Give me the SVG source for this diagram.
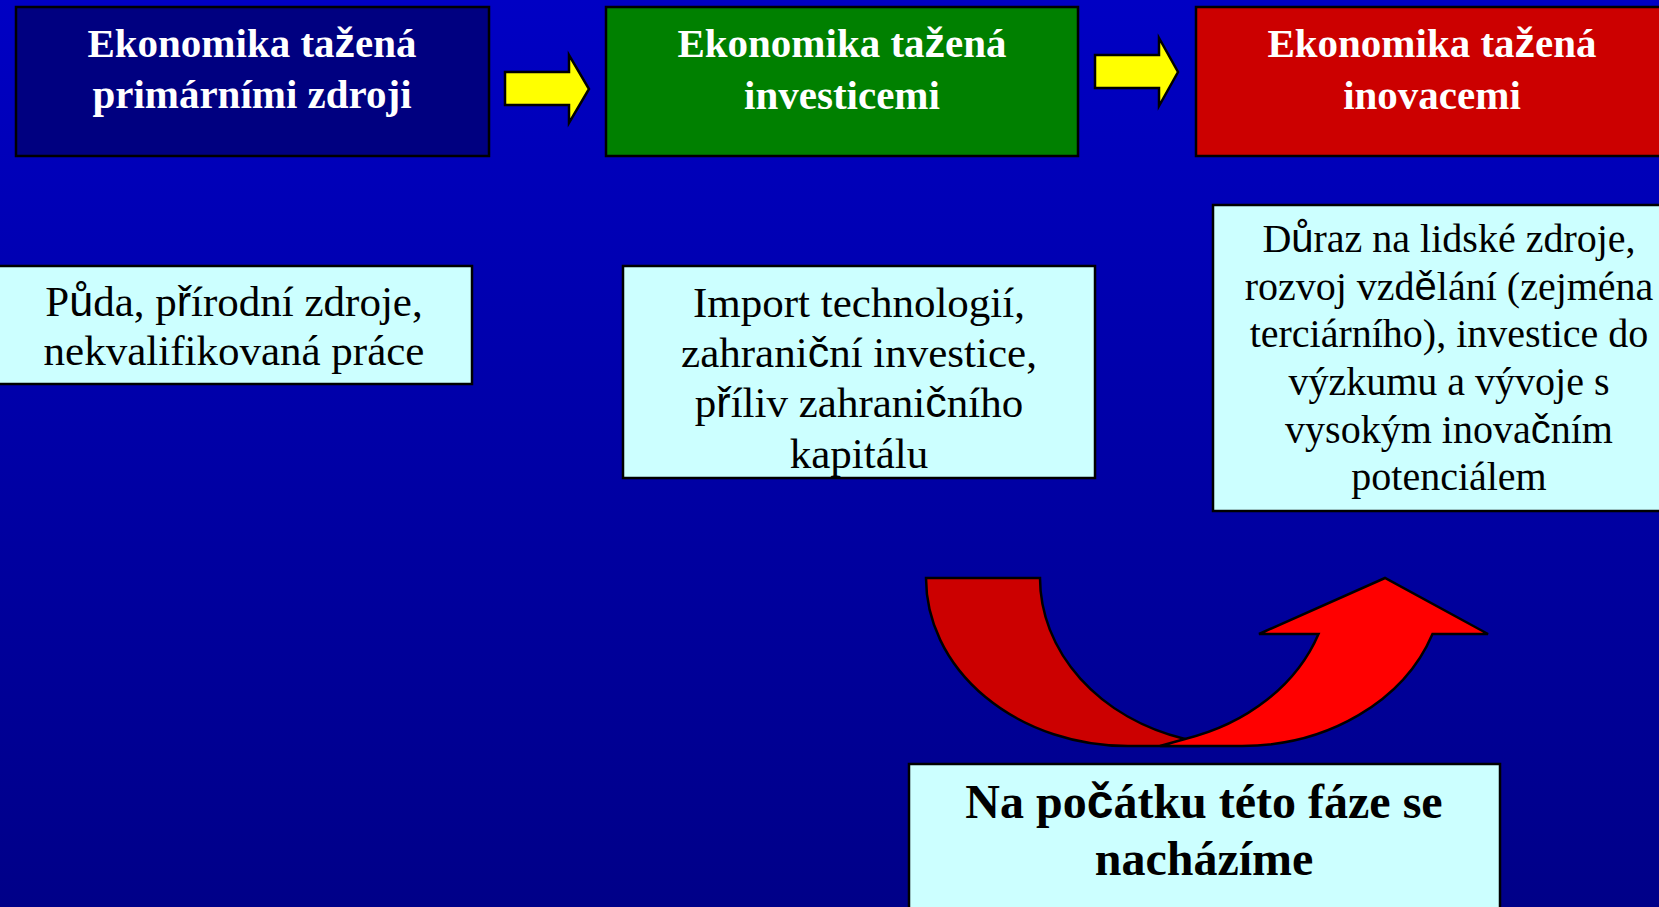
<svg xmlns="http://www.w3.org/2000/svg" width="1659" height="907" viewBox="0 0 1659 907">
<defs>
<linearGradient id="bg" x1="0" y1="0" x2="0" y2="1">
<stop offset="0" stop-color="#0000C4"/>
<stop offset="1" stop-color="#000088"/>
</linearGradient>
</defs>
<style>
.box{stroke:#000;stroke-width:2.5}
.title{font-family:"Liberation Serif","Times New Roman",serif;font-weight:bold;font-size:41px;fill:#fff;text-anchor:middle}
.body{font-family:"Liberation Serif","Times New Roman",serif;fill:#000;text-anchor:middle}
.s{font-family:"Liberation Sans",Arial,sans-serif}
.light{fill:#CCFFFF}
.yarrow{fill:#FFFF00;stroke:#000;stroke-width:2.5;stroke-linejoin:miter}
.band{stroke:#000;stroke-width:2.5;stroke-linejoin:miter}
</style>
<rect x="0" y="0" width="1659" height="907" fill="url(#bg)"/>

<g id="node-primary">
<rect class="box" x="16" y="7" width="473" height="149" fill="#000080"/>
<text class="title" x="252" y="57">Ekonomika ta<tspan class="s">ž</tspan>ená</text>
<text class="title" x="252" y="108">primárními zdroji</text>
</g>

<g id="node-investment">
<rect class="box" x="606" y="7" width="472" height="149" fill="#008000"/>
<text class="title" x="842" y="57">Ekonomika ta<tspan class="s">ž</tspan>ená</text>
<text class="title" x="842" y="109">investicemi</text>
</g>

<g id="node-innovation">
<rect class="box" x="1196" y="7" width="472" height="149" fill="#CC0000"/>
<text class="title" x="1432" y="57">Ekonomika ta<tspan class="s">ž</tspan>ená</text>
<text class="title" x="1432" y="109">inovacemi</text>
</g>

<g id="desc-primary">
<rect class="box light" x="-4" y="266" width="476" height="118"/>
<text class="body" font-size="43" x="234" y="316">P<tspan class="s">ů</tspan>da, p<tspan class="s">ř</tspan>írodní zdroje,</text>
<text class="body" font-size="43" x="234" y="365">nekvalifikovaná práce</text>
</g>

<g id="desc-investment">
<rect class="box light" x="623" y="266" width="472" height="212"/>
<text class="body" font-size="43" x="859" y="317">Import technologií,</text>
<text class="body" font-size="43" x="859" y="367">zahrani<tspan class="s">č</tspan>ní investice,</text>
<text class="body" font-size="43" x="859" y="417">p<tspan class="s">ř</tspan>íliv zahrani<tspan class="s">č</tspan>ního</text>
<text class="body" font-size="43" x="859" y="468">kapitálu</text>
</g>

<g id="desc-innovation">
<rect class="box light" x="1213" y="205" width="472" height="306"/>
<text class="body" font-size="40" x="1449" y="252">D<tspan class="s">ů</tspan>raz na lidské zdroje,</text>
<text class="body" font-size="40" x="1449" y="299.5">rozvoj vzd<tspan class="s">ě</tspan>lání (zejména</text>
<text class="body" font-size="40" x="1449" y="347">terciárního), investice do</text>
<text class="body" font-size="40" x="1449" y="395">výzkumu a vývoje s</text>
<text class="body" font-size="40" x="1449" y="442.5">vysokým inova<tspan class="s">č</tspan>ním</text>
<text class="body" font-size="40" x="1449" y="490">potenciálem</text>
</g>

<g id="node-current">
<rect class="box light" x="909" y="764" width="591" height="160"/>
<text class="body" font-size="48" font-weight="bold" x="1204" y="818">Na po<tspan class="s">č</tspan>átku této fáze se</text>
<text class="body" font-size="48" font-weight="bold" x="1204" y="875">nacházíme</text>
</g>

<g id="connectors">
<path class="yarrow" d="M505,72 L569,72 L569,55 L589,89 L569,123 L569,105 L505,105 Z"/>
<path class="yarrow" d="M1095,55 L1159,55 L1159,38 L1178,72 L1159,106 L1159,88 L1095,88 Z"/>
<path class="band" fill="#CC0000" d="M926,578 L1040,578 A202,168 0 0 0 1185,739 L1200,746 L1128,746 A202,168 0 0 1 926,578 Z"/>
<path class="band" fill="#FF0000" d="M1185,739 A202,168 0 0 0 1318.5,634 L1259,634 L1385,578 L1488,634 L1432.5,634 A202,168 0 0 1 1242,746 L1160,746 Z"/>
</g>
</svg>
